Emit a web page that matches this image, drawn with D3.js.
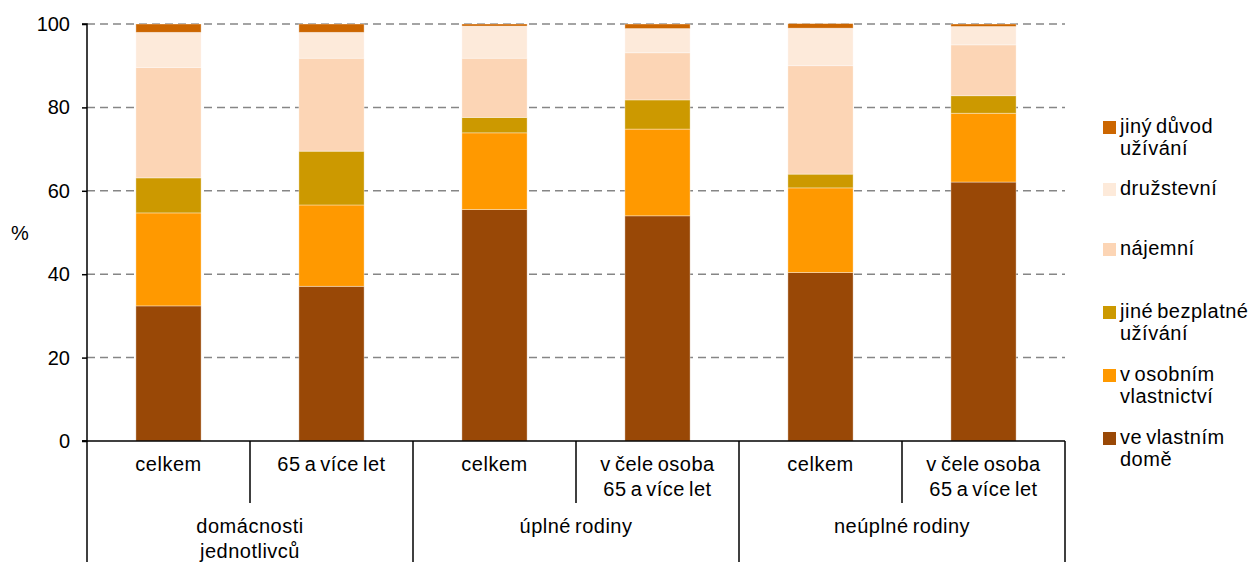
<!DOCTYPE html>
<html><head><meta charset="utf-8">
<script src="https://cdn.jsdelivr.net/npm/d3@7/dist/d3.min.js"></script>
<style>body{margin:0;background:#fff}svg{display:block;font-family:"Liberation Sans",Arial,sans-serif}</style>
</head><body><svg id="c" width="1258" height="562"></svg>
<script>
const categories = ["celkem","65 a více let","celkem","v čele osoba|65 a více let","celkem","v čele osoba|65 a více let"];
const groups = ["domácnosti|jednotlivců","úplné rodiny","neúplné rodiny"];
const seriesNames = ["ve vlastním domě","v osobním vlastnictví","jiné bezplatné užívání","nájemní","družstevní","jiný důvod užívání"];
const legendLabels = [["jiný důvod","užívání"],["družstevní"],["nájemní"],["jiné bezplatné","užívání"],["v osobním","vlastnictví"],["ve vlastním","domě"]];
const colors = ["#994806","#FF9900","#CC9900","#FCD5B5","#FDEADA","#CC6600"];
const vlastniDum   = [32.4,37.1,55.5,54.0,40.4,62.1];
const osobni       = [22.3,19.5,18.4,20.8,20.3,16.5];
const bezplatne    = [8.4,12.9,3.7,7.0,3.3,4.2];
const najemni      = [26.5,22.3,14.2,11.3,26.0,12.2];
const druzstevni   = [8.4,6.2,7.7,5.8,9.0,4.4];
const jinyDuvod    = [2.0,2.0,0.5,1.1,1.1,0.6];
const yTicks = [0,20,40,60,80,100];

const series = [vlastniDum,osobni,bezplatne,najemni,druzstevni,jinyDuvod];
const svg = d3.select("#c");
const L=87,R=1065,T=24,B=441;
const x = d3.scaleBand().domain(d3.range(categories.length)).range([L,R]).paddingInner(0).paddingOuter(0);
const y = d3.scaleLinear().domain([0,100]).range([B,T]);
const fs = 20;

function styleText(sel){ sel.attr("font-size",fs).attr("fill","#000").attr("letter-spacing","0.5px").attr("word-spacing","-2px"); }

// grid
svg.append("g").selectAll("line").data(yTicks.filter(d=>d>0)).join("line")
  .attr("x1",L).attr("x2",R).attr("y1",d=>y(d)).attr("y2",d=>y(d))
  .attr("stroke","#868686").attr("stroke-width",1.5).attr("stroke-dasharray","8,5");

// bars
const rows = categories.map((c,i)=>{const o={i}; seriesNames.forEach((s,k)=>o[s]=series[k][i]); return o;});
const stack = d3.stack().keys(seriesNames)(rows);
const bw = x.bandwidth()*0.4;
svg.append("g").selectAll("g").data(stack).join("g").attr("fill",(d,k)=>colors[k])
  .selectAll("rect").data(d=>d).join("rect")
  .attr("x",d=>x(d.data.i)+x.bandwidth()/2-bw/2).attr("width",bw)
  .attr("y",d=>y(d[1])).attr("height",d=>y(d[0])-y(d[1]))
  .attr("stroke","#ffffff").attr("stroke-opacity",0.45).attr("stroke-width",0.8);

// y axis
const ya = svg.append("g").attr("transform",`translate(${L},0)`)
  .call(d3.axisLeft(y).tickValues(yTicks).tickSize(5).tickPadding(12));
ya.select(".domain").attr("stroke","#000").attr("stroke-width",1.5).attr("d",`M-5,${T}H0V${B}H-5`);
ya.selectAll(".tick line").attr("stroke","#000").attr("stroke-width",1.5);
ya.selectAll("text").attr("font-size",fs).attr("fill","#000").style("font-family","Liberation Sans, Arial, sans-serif");
svg.append("text").attr("x",20).attr("y",y(50)).attr("dy","0.35em").attr("text-anchor","middle").attr("font-size",fs).text("%");

// category axis
svg.append("line").attr("x1",L-5).attr("x2",R).attr("y1",B).attr("y2",B).attr("stroke","#000").attr("stroke-width",1.5);
const bounds = d3.range(categories.length+1);
svg.append("g").selectAll("line").data(bounds).join("line")
  .attr("x1",i=>i<categories.length?x(i):R).attr("x2",i=>i<categories.length?x(i):R)
  .attr("y1",B).attr("y2",i=>i%2===0?562:503)
  .attr("stroke","#000").attr("stroke-width",1.5);
svg.append("g").selectAll("text").data(categories).join("text")
  .attr("x",(d,i)=>x(i)+x.bandwidth()/2).attr("y",466).attr("text-anchor","middle").call(styleText)
  .each(function(d){const t=d3.select(this); d.split("|").forEach((s,j)=>t.append("tspan").attr("x",t.attr("x")).attr("dy",j?25:0).attr("dominant-baseline","middle").text(s));});
svg.append("g").selectAll("text").data(groups).join("text")
  .attr("x",(d,i)=>x(2*i+1)).attr("y",528).attr("text-anchor","middle").call(styleText)
  .each(function(d){const t=d3.select(this); d.split("|").forEach((s,j)=>t.append("tspan").attr("x",t.attr("x")).attr("dy",j?25:0).attr("dominant-baseline","middle").text(s));});

// legend
const legY = [128,190,250,313,376,439];
const lg = svg.append("g").selectAll("g").data(legendLabels).join("g").attr("transform",(d,i)=>`translate(1103,${legY[i]})`);
lg.append("rect").attr("x",0).attr("y",-7).attr("width",13).attr("height",13).attr("fill",(d,i)=>colors[5-i]);
lg.each(function(d){const g=d3.select(this); d.forEach((s,j)=>g.append("text").attr("x",17).attr("y",j*22).attr("dominant-baseline","middle").call(styleText).text(s));});
</script></body></html>
